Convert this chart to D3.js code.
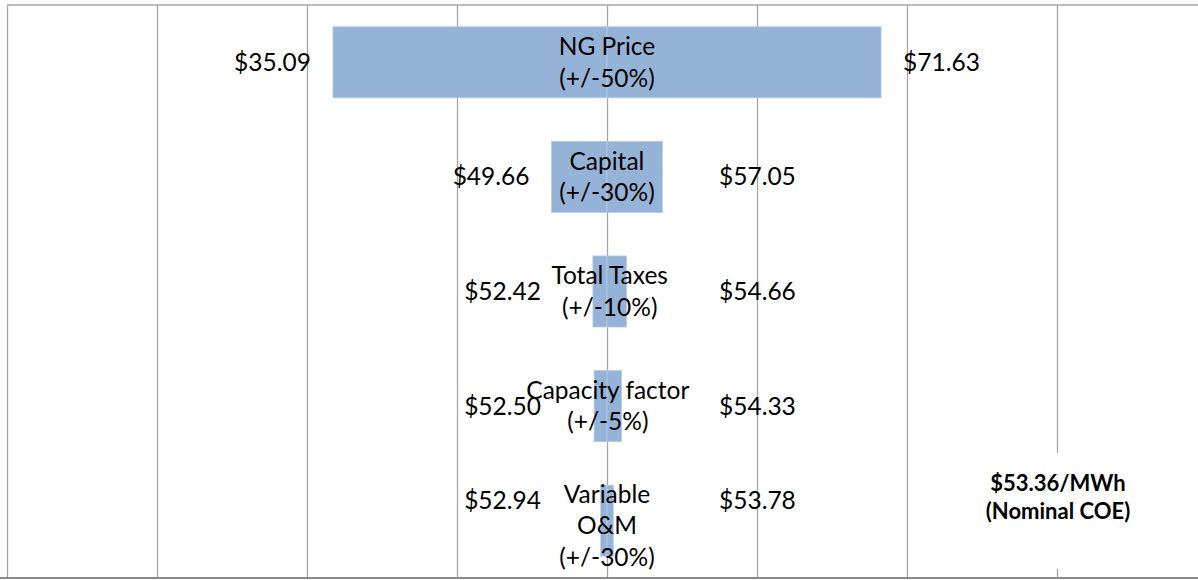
<!DOCTYPE html>
<html>
<head>
<meta charset="utf-8">
<script src="https://cdn.jsdelivr.net/npm/d3@7"></script>
<style>
  body { margin: 0; background: #fff; }
  text { font-family: Lato, "Open Sans", sans-serif; fill: #000; }
</style>
</head>
<body>
<script>
    //data
    var categories = ["NG Price", "Capital", "Total Taxes", "Capacity factor", "Variable\nO&M"];
    var ranges = ["+/-50%", "+/-30%", "+/-10%", "+/-5%", "+/-30%"];
    var lowValues = [35.09, 49.66, 52.42, 52.50, 52.94];
    var highValues = [71.63, 57.05, 54.66, 54.33, 53.78];
    var baseValue = 53.36;
    var baseLabel = ["$53.36/MWh", "(Nominal COE)"];

    //size
    var width = 1198;
    var height = 580;

    //plot area
    var plot = { left: 7, right: 1207, top: 5, bottom: 578 };

    //x = deviation from the base value, one gridline every $10
    var xScale = d3.scaleLinear()
        .domain([-40, 40])
        .range([plot.left, plot.right]);

    var yScale = d3.scaleBand()
        .domain(categories)
        .range([plot.top, plot.bottom])
        .paddingInner(0.38)
        .paddingOuter(0.19);

    var svg = d3.select("body")
        .append("svg")
        .attr("width", width)
        .attr("height", height);

    //gridlines
    var grid = d3.axisBottom(xScale)
        .tickValues(d3.range(-40, 41, 10))
        .tickSize(-(plot.bottom - plot.top))
        .tickFormat("");

    svg.append("g")
        .attr("class", "grid")
        .attr("transform", "translate(0," + plot.bottom + ")")
        .call(grid)
        .call(function (g) {
            g.select(".domain").remove();
            g.selectAll(".tick line").attr("stroke", "#a6a6a6").attr("stroke-width", 1.3);
        });

    //top border
    svg.append("line")
        .attr("x1", plot.left).attr("x2", width)
        .attr("y1", plot.top).attr("y2", plot.top)
        .attr("stroke", "#a6a6a6").attr("stroke-width", 1.5);

    //bottom axis
    svg.append("line")
        .attr("x1", 0).attr("x2", width)
        .attr("y1", plot.bottom).attr("y2", plot.bottom)
        .attr("stroke", "#8c8c8c").attr("stroke-width", 2);

    var rows = categories.map(function (c, i) {
        return { cat: c, range: ranges[i], low: lowValues[i], high: highValues[i] };
    });

    //bars: low -> base and base -> high
    var segs = [];
    rows.forEach(function (r) {
        segs.push({ cat: r.cat, a: r.low - baseValue, b: 0 });
        segs.push({ cat: r.cat, a: 0, b: r.high - baseValue });
    });

    svg.selectAll("rect.bar")
        .data(segs)
        .enter()
        .append("rect")
        .attr("class", "bar")
        .attr("x", function (d) { return xScale(d.a); })
        .attr("y", function (d) { return yScale(d.cat); })
        .attr("width", function (d) { return xScale(d.b) - xScale(d.a); })
        .attr("height", yScale.bandwidth())
        .attr("fill", "#95b3d7")
        .attr("stroke", "#b7cbe4")
        .attr("stroke-width", 0.8);

    var fs = 24.5;
    var lineH = 31.5;

    //category labels in the bars
    rows.forEach(function (r) {
        var lines = r.cat.split("\n").concat(["(" + r.range + ")"]);
        var cx = (xScale(r.low - baseValue) + xScale(r.high - baseValue)) / 2;
        var cy = yScale(r.cat) + yScale.bandwidth() / 2 + (lines.length > 2 ? 5 : 0);
        var y0 = cy - (lines.length - 1) * lineH / 2;
        r.valueY = y0 + lineH / 2;
        if (lines.length > 2) r.valueY -= 10;

        svg.append("text")
            .attr("text-anchor", "middle")
            .attr("font-size", fs)
            .selectAll("tspan")
            .data(lines)
            .enter()
            .append("tspan")
            .attr("x", cx)
            .attr("y", function (d, i) { return y0 + i * lineH; })
            .attr("dy", "0.35em")
            .text(function (d) { return d; });
    });

    //value labels
    svg.selectAll("text.low")
        .data(rows)
        .enter()
        .append("text")
        .attr("class", "low")
        .attr("text-anchor", "end")
        .attr("font-size", fs)
        .attr("dy", "0.35em")
        .attr("x", function (d) { return Math.min(xScale(d.low - baseValue) - 22, xScale(0) - 66); })
        .attr("y", function (d) { return d.valueY; })
        .text(function (d) { return "$" + d.low.toFixed(2); });

    svg.selectAll("text.high")
        .data(rows)
        .enter()
        .append("text")
        .attr("class", "high")
        .attr("text-anchor", "start")
        .attr("font-size", fs)
        .attr("dy", "0.35em")
        .attr("x", function (d) { return Math.max(xScale(d.high - baseValue) + 22, xScale(0) + 112); })
        .attr("y", function (d) { return d.valueY; })
        .text(function (d) { return "$" + d.high.toFixed(2); });

    //base value note
    var noteX = xScale(30) + 1;
    svg.append("rect")
        .attr("x", noteX - 85).attr("y", 453)
        .attr("width", 170).attr("height", 116)
        .attr("fill", "#fff");

    svg.append("text")
        .attr("text-anchor", "middle")
        .attr("font-size", 22)
        .attr("font-weight", "bold")
        .selectAll("tspan")
        .data(baseLabel)
        .enter()
        .append("tspan")
        .attr("x", noteX)
        .attr("y", function (d, i) { return 483 + i * 28; })
        .attr("dy", "0.35em")
        .text(function (d) { return d; });
</script>
</body>
</html>
